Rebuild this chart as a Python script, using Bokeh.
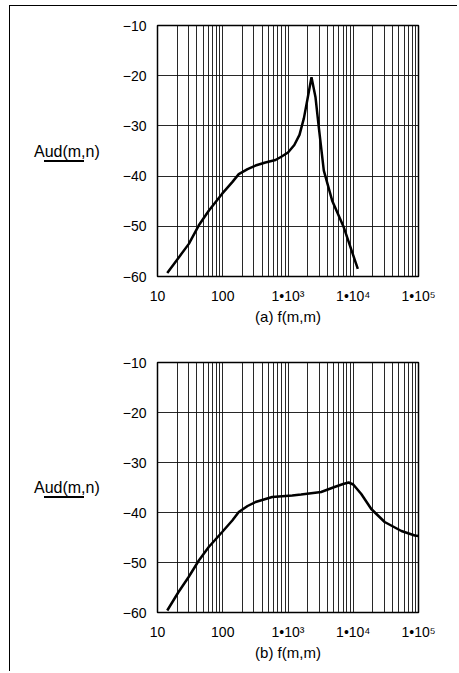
from bokeh.plotting import figure
from bokeh.layouts import column
from bokeh.models import FixedTicker, Range1d, InlineStyleSheet
from bokeh.embed import file_html
from bokeh.resources import INLINE

# ---- data ----
freq_a = [14.1, 21.2, 30.2, 43, 61, 98, 140, 176, 240, 318, 450, 643, 800, 1000, 1250,
          1500, 1750, 2000, 2291, 2640, 2966, 3540, 4755, 7160, 11750]
aud_a = [-59.3, -56.2, -53.5, -49.8, -46.9, -43.5, -41.2, -39.6, -38.6, -37.9, -37.3, -36.8,
         -36.1, -35.3, -33.8, -31.8, -28.5, -24.5, -20.3, -24.3, -30.3, -38.9, -44.9, -50.2, -58.5]

freq_b = [14.1, 21, 30, 43, 61, 98, 140, 176, 240, 318, 573, 1160, 1585, 3220, 5160, 7000,
          8500, 10000, 13270, 18900, 30300, 54700, 87700, 100000]
aud_b = [-59.6, -55.9, -52.9, -49.6, -46.9, -43.9, -41.6, -39.9, -38.7, -37.9, -36.9, -36.6,
         -36.4, -35.9, -34.9, -34.3, -34.0, -34.4, -36.3, -39.3, -41.9, -43.7, -44.6, -44.7]

x_ticks = [10, 100, 1000, 10000, 100000]
x_tick_labels = ["10", "100", "1\u202210\u00b3", "1\u202210\u2074", "1\u202210\u2075"]
y_ticks = [-60, -50, -40, -30, -20, -10]
y_tick_labels = ["\u221260", "\u221250", "\u221240", "\u221230", "\u221220", "\u221210"]
x_grid = [m * 10 ** d for d in range(1, 5) for m in range(1, 10)] + [100000]

y_label = "Aud(m,n)"
x_labels = ["(a) f(m,m)", "(b) f(m,m)"]

FONT = "Liberation Sans"


def make(freq, aud, xlabel, height, top, bottom):
    p = figure(width=447, height=height, x_axis_type="log",
               x_range=Range1d(10, 100000), y_range=Range1d(-60, -10),
               output_backend="svg", toolbar_location=None,
               min_border_left=147, min_border_right=39,
               min_border_top=top, min_border_bottom=bottom)
    p.background_fill_color = "white"
    p.border_fill_color = "white"
    p.outline_line_color = "black"
    p.outline_line_width = 1.5

    p.xgrid.ticker = FixedTicker(ticks=x_grid)
    p.ygrid.ticker = FixedTicker(ticks=y_ticks)
    p.grid.grid_line_color = "#111111"
    p.grid.grid_line_width = 1
    p.grid.grid_line_alpha = 0.9

    p.line(freq, aud, line_color="black", line_width=2.5)

    p.xaxis.ticker = FixedTicker(ticks=x_ticks)
    p.xaxis.major_label_overrides = dict(zip(x_ticks, x_tick_labels))
    p.yaxis.ticker = FixedTicker(ticks=y_ticks)
    p.yaxis.major_label_overrides = dict(zip(y_ticks, y_tick_labels))

    for ax in (p.xaxis, p.yaxis):
        ax.axis_line_color = None
        ax.major_tick_line_color = None
        ax.minor_tick_line_color = None
        ax.major_label_text_font = FONT
        ax.major_label_text_font_size = "14px"
        ax.major_label_text_color = "black"
        ax.axis_label_text_font = FONT
        ax.axis_label_text_font_style = "normal"
        ax.axis_label_text_color = "black"

    p.xaxis.major_label_standoff = 5
    p.xaxis.axis_label = xlabel
    p.xaxis.axis_label_standoff = 1
    p.xaxis.axis_label_text_font_size = "15px"

    p.yaxis.major_label_standoff = 5
    p.yaxis.axis_label = y_label
    p.yaxis.axis_label_orientation = "horizontal"
    p.yaxis.axis_label_standoff = 20
    p.yaxis.axis_label_text_font_size = "16px"
    return p


p1 = make(freq_a, aud_a, x_labels[0], 324, 19, 54)
p2 = make(freq_b, aud_b, x_labels[1], 341, 32, 59)

css = """
:host {
  position: relative;
  margin-left: 9px;
  margin-top: 5px;
  border-left: 1px solid black;
  border-top: 1px solid black;
}
:host::before, :host::after {
  content: "";
  position: absolute;
  left: 34px;
  width: 40px;
  height: 2px;
  background: black;
  z-index: 10;
}
:host::before { top: 154px; }
:host::after { top: 490px; }
"""

page = column(p1, p2, stylesheets=[InlineStyleSheet(css=css)])

open("out.html", "w").write(file_html(page, INLINE))
